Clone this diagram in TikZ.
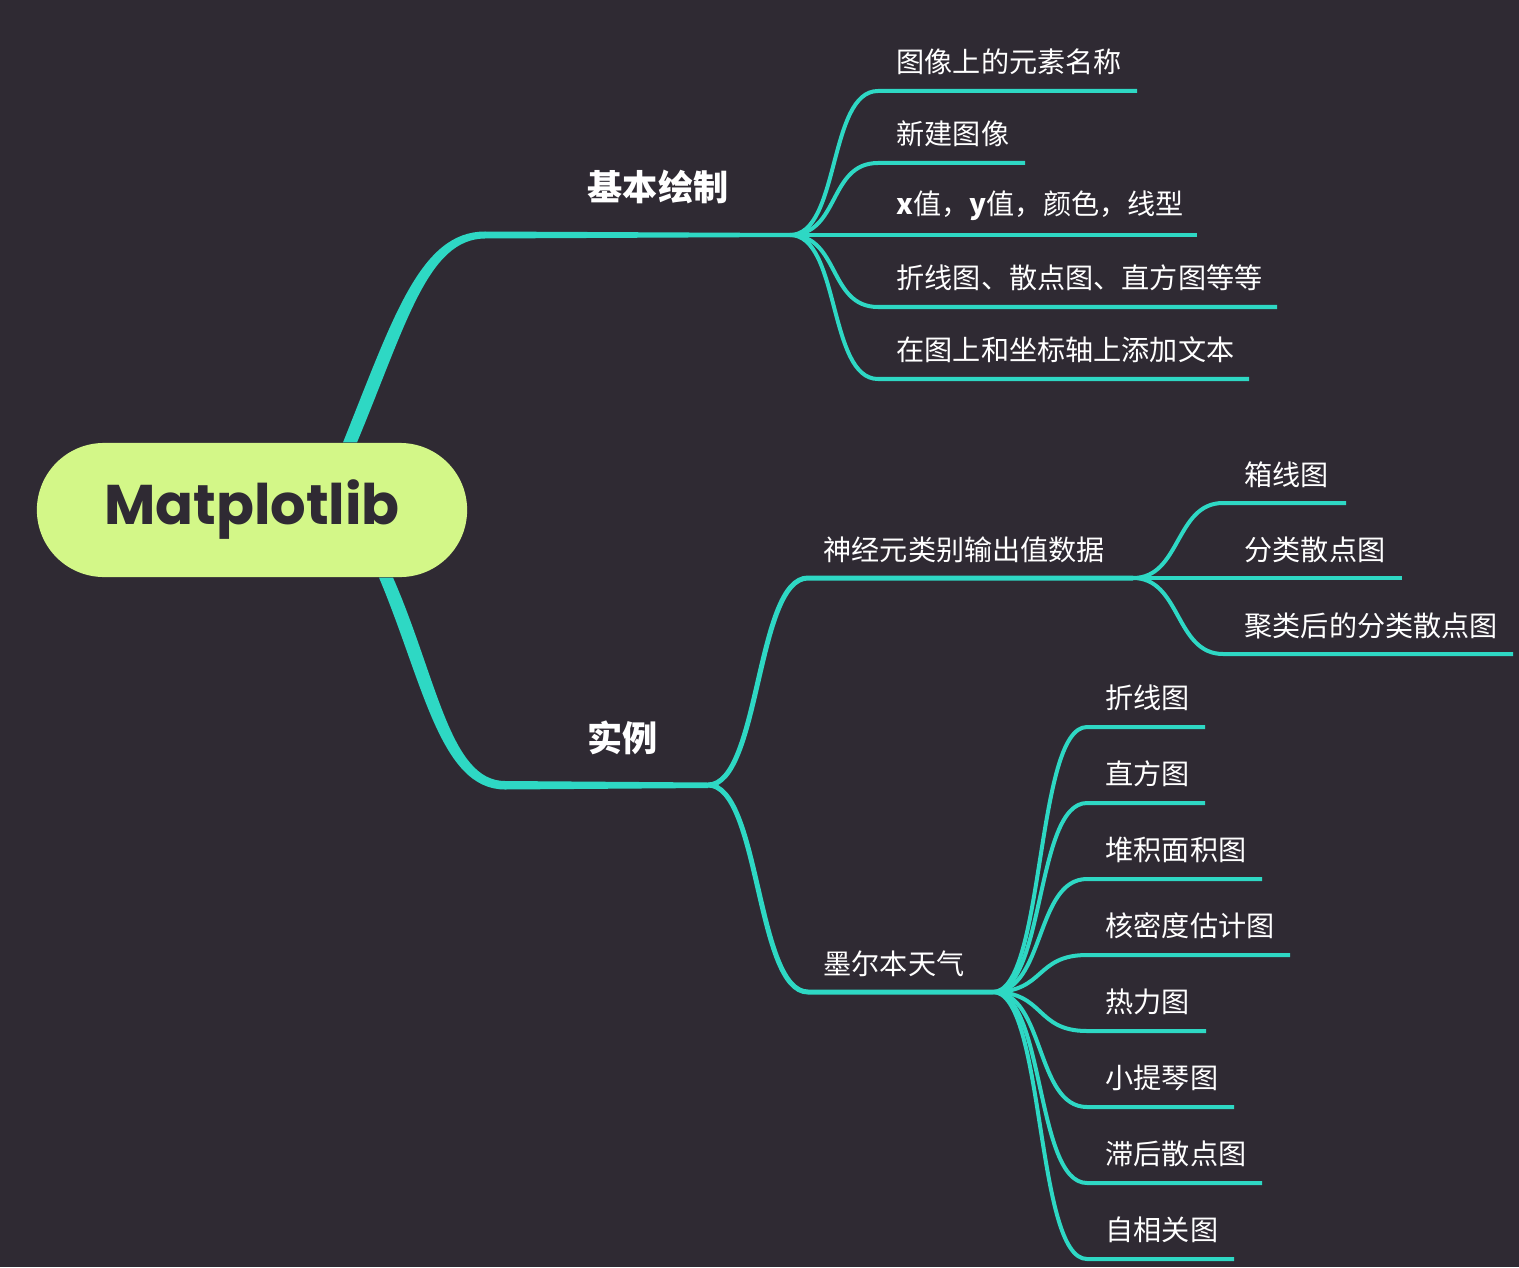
\documentclass[tikz,border=0pt]{standalone}
\usepackage{fontspec}
\setmainfont{Noto Sans CJK SC}
\newfontfamily\poppins{Poppins}

\definecolor{hintergrund}{RGB}{47,42,51}
\definecolor{tuerkis}{RGB}{46,216,196}
\definecolor{hellgruen}{RGB}{211,247,136}

\begin{document}
\begin{tikzpicture}[x=0.01cm, y=-0.01cm,
    wurzel/.style={fill=hellgruen, rounded corners=0.67cm, minimum width=4.3cm, minimum height=1.34cm,
        text=hintergrund, font=\poppins\bfseries\fontsize{15.9pt}{18pt}\selectfont},
    ast/.style={fill=tuerkis},
    zweig/.style={draw=tuerkis, line width=0.05cm},
    blatt/.style={draw=tuerkis, line width=0.04cm},
    titel/.style={text=white, anchor=west, inner sep=0, font=\bfseries\fontsize{10pt}{12pt}\selectfont},
    eintrag/.style={text=white, anchor=west, inner sep=0, font=\fontsize{8pt}{10pt}\selectfont}]

    % Hintergrund
    \fill[hintergrund] (0,0) rectangle (1519,1267);
    \useasboundingbox (0,0) rectangle (1519,1267);

    % Wurzelknoten
    \node[wurzel] (root) at (252,510) {Matplotlib};

    % Verzweigungspunkte
    \coordinate (jb) at (790,235);
    \coordinate (jl) at (708,785);
    \coordinate (jn) at (1133,578);
    \coordinate (jw) at (993,992);

    % Hauptaeste (nach aussen duenner)
    \fill[ast] ([xshift=0.91cm]root.north) .. controls (393,318) and (420,231.5) .. (485,231.5)
        -- ([yshift=0.02cm]jb) -- ([yshift=-0.02cm]jb)
        -- (485,238.5) .. controls (428,239) and (407,322) .. ([xshift=1.05cm]root.north) -- cycle;
    \fill[ast] ([xshift=1.27cm]root.south) .. controls (423,682) and (440,789.5) .. (505,789.5)
        -- ([yshift=-0.03cm]jl) -- ([yshift=0.025cm]jl)
        -- (505,781) .. controls (450,781) and (437,678) .. ([xshift=1.41cm]root.south) -- cycle;

    % Astbeschriftungen
    \node[titel] (basis) at (587,187) {基本绘制};
    \node[titel] (beispiel) at (587,738) {实例};
    \node[eintrag] (neuron) at (823,550) {神经元类别输出值数据};
    \node[eintrag] (wetter) at (823,964) {墨尔本天气};

    % Unteraeste
    \draw[zweig] (jl) .. controls +(52,0) and +(-52,0) .. (808,578) -- (jn);
    \draw[zweig] (jl) .. controls +(52,0) and +(-52,0) .. (808,992) -- (jw);

    % Listen: Linienhoehe / Linienende / Text
    \def\basisliste{91/1137/图像上的元素名称, 163/1025/新建图像, 235/1197/{\textbf{x}值，\textbf{y}值，颜色，线型},
        307/1277/折线图、散点图、直方图等等, 379/1249/在图上和坐标轴上添加文本}
    \def\neuronliste{503/1346/箱线图, 578/1402/分类散点图, 654/1513/聚类后的分类散点图}
    \def\wetterliste{727/1205/折线图, 803/1205/直方图, 879/1262/堆积面积图, 955/1290/核密度估计图,
        1031/1206/热力图, 1107/1234/小提琴图, 1183/1262/滞后散点图, 1259/1234/自相关图}

    % Blaetter
    \foreach \y/\e/\t [count=\i] in \basisliste {
        \node[eintrag] (ba\i) at (896,\y-29) {\t};
        \coordinate (ea\i) at (\e,\y);
        \draw[blatt] (jb) .. controls +(50,0) and +(-50,0) .. (878,\y) -- (ea\i);
    }
    \foreach \y/\e/\t [count=\i] in \neuronliste {
        \node[eintrag] (nb\i) at (1244,\y-28) {\t};
        \coordinate (en\i) at (\e,\y);
        \draw[blatt] (jn) .. controls +(48,0) and +(-48,0) .. (1223,\y) -- (en\i);
    }
    \foreach \y/\e/\t [count=\i] in \wetterliste {
        \node[eintrag] (wb\i) at (1105,\y-29) {\t};
        \coordinate (ew\i) at (\e,\y);
        \draw[blatt] (jw) .. controls +(52,0) and +(-52,0) .. (1087,\y) -- (ew\i);
    }
\end{tikzpicture}
\end{document}
